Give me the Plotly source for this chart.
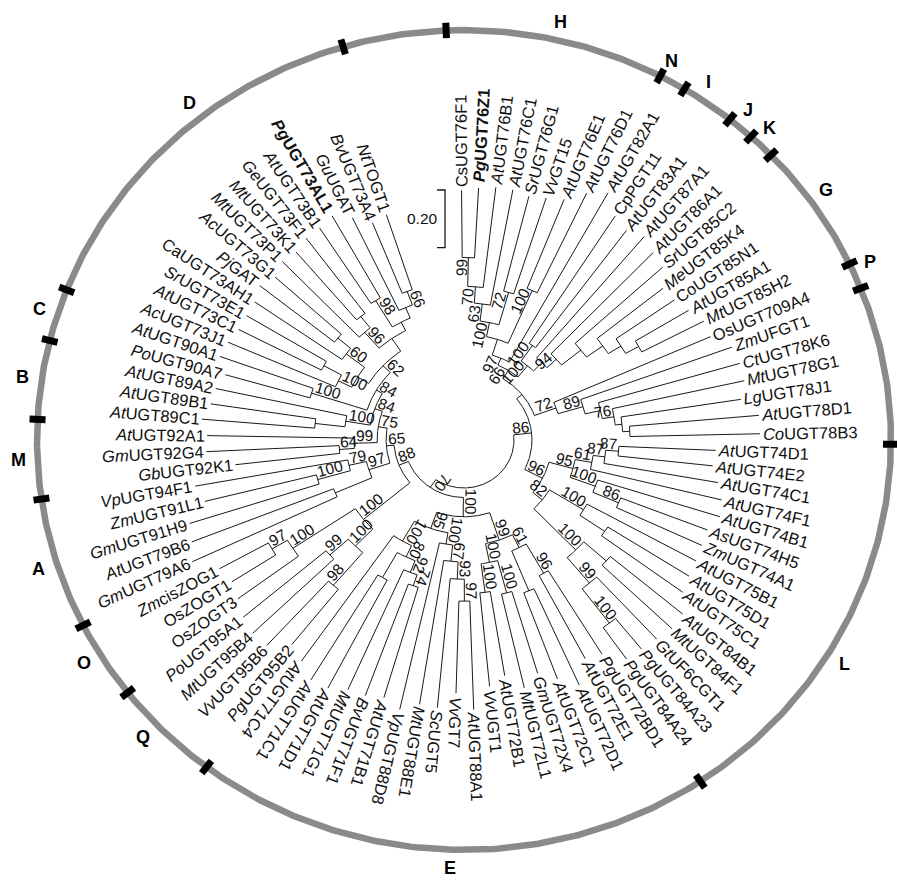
import math
import plotly.graph_objects as go

# ---------------- data ----------------
leaf_names = [
    "CsUGT76F1", "PgUGT76Z1", "AtUGT76B1", "AtUGT76C1", "SrUGT76G1", "VvGT15", "AtUGT76E1", "AtUGT76D1", "AtUGT82A1", "CpPGT11",
    "AtUGT83A1", "AtUGT87A1", "AtUGT86A1", "SrUGT85C2", "MeUGT85K4", "CoUGT85N1", "AtUGT85A1", "MtUGT85H2", "OsUGT709A4", "ZmUFGT1",
    "CtUGT78K6", "MtUGT78G1", "LgUGT78J1", "AtUGT78D1", "CoUGT78B3", "AtUGT74D1", "AtUGT74E2", "AtUGT74C1", "AtUGT74F1", "AtUGT74B1",
    "AsUGT74H5", "ZmUGT74A1", "AtUGT75B1", "AtUGT75D1", "AtUGT75C1", "AtUGT84B1", "MtUGT84F1", "GtUF6CGT1", "PgUGT84A23", "PgUGT84A24",
    "PgUGT72BD1", "AtUGT72E1", "AtUGT72D1", "AtUGT72C1", "GmUGT72X4", "MtUGT72L1", "AtUGT72B1", "VvUGT1", "AtUGT88A1", "VvGT7",
    "ScUGT5", "MtUGT88E1", "VpUGT88D8", "AtUGT71B1", "BvUGT71F1", "MtUGT71G1", "AtUGT71D1", "AtUGT71C1", "AtUGT71C4", "PgUGT95B2",
    "VvUGT95B6", "MtUGT95B4", "PoUGT95A1", "OsZOGT3", "OsZOGT1", "ZmcisZOG1", "GmUGT79A6", "AtUGT79B6", "GmUGT91H9", "ZmUGT91L1",
    "VpUGT94F1", "GbUGT92K1", "GmUGT92G4", "AtUGT92A1", "AtUGT89C1", "AtUGT89B1", "AtUGT89A2", "PoUGT90A7", "AtUGT90A1", "AcUGT73J1",
    "AtUGT73C1", "SrUGT73E1", "CaUGT73AH1", "PjGAT", "AcUGT73G1", "MtUGT73P1", "MtUGT73K1", "GeUGT73F1", "AtUGT73B1", "PgUGT73AL1",
    "GuUGAT", "BvUGT73A4", "NtTOGT1",
]

# distance of each tip from the root (substitutions per site)
leaf_depth = [
    0.700, 0.710, 0.717, 0.717, 0.707, 0.717, 0.733, 0.783, 0.817, 0.760,
    0.740, 0.760, 0.740, 0.727, 0.680, 0.687, 0.707, 0.733, 0.730, 0.783,
    0.790, 0.790, 0.767, 0.820, 0.820, 0.673, 0.667, 0.693, 0.717, 0.727,
    0.703, 0.707, 0.713, 0.720, 0.733, 0.780, 0.787, 0.777, 0.770, 0.767,
    0.707, 0.693, 0.767, 0.720, 0.680, 0.717, 0.663, 0.693, 0.770, 0.713,
    0.767, 0.763, 0.793, 0.767, 0.780, 0.783, 0.807, 0.810, 0.773, 0.747,
    0.803, 0.807, 0.793, 0.767, 0.750, 0.763, 0.833, 0.807, 0.793, 0.723,
    0.743, 0.600, 0.693, 0.690, 0.710, 0.687, 0.680, 0.660, 0.697, 0.690,
    0.677, 0.677, 0.680, 0.700, 0.680, 0.700, 0.693, 0.710, 0.713, 0.727,
    0.690, 0.647, 0.657,
]

bold_leaves = ["PgUGT76Z1", "PgUGT73AL1"]
upright_leaves = ["CsUGT76F1", "CpPGT11", "CoUGT85N1", "OsUGT709A4", "OsZOGT3", "OsZOGT1", "CaUGT73AH1"]

# internal nodes: children (int = leaf number, str = node id), depth from root, bootstrap
node_id = [
    "h1", "h2", "h3", "h4", "h5", "h6", "h7", "hA", "i1", "g1", "g2", "g3", "g4", "g5", "g6", "g7", "t1",
    "f1", "f2", "f3", "f4", "f5", "p1", "t2",
    "l1", "l2", "l3", "l4", "l5", "l6", "l7", "l8", "l9", "l10", "l11a", "l11", "l12", "l13", "r86",
    "e1", "ea", "e2", "e3", "e4", "e5", "e6", "e7", "e8", "e9", "e10", "e11", "e12", "e13", "e14", "e15", "e16", "e99",
    "q1", "q2", "q3", "o1", "o2", "qo",
    "a2", "a1", "a79", "a3", "m1", "m2", "b1", "b2", "c1",
    "d10", "d11", "d8", "d9", "d12", "d5", "d6", "d3", "d1", "d2", "d4", "d7", "d13",
    "dc", "bdc", "mbdc", "am", "L1", "L2", "root",
]
node_left = [
    1, "h1", "h2", 5, "h3", 7, "h5", "h7", 10, 17, 16, 15, 14, 13, 12, "i1", "hA",
    24, 23, 22, 21, 20, 19, "t1",
    26, "l1", "l2", 31, 30, "l3", 34, 33, 39, 38, 36, "l11a", "l8", "l6", "t2",
    41, 43, "e1", 45, 47, "e3", "e2", 49, "e7", "e8", "e9", 54, "e11", 57, "e12", "e14", "e10", "e6",
    60, 62, "q1", 65, 64, "q3",
    67, 69, "a1", "a2", 72, "m1", 75, "b1", 78,
    81, 80, 84, 83, "d11", 87, 86, 89, 92, 91, "d3", "d6", "d12",
    "c1", "b2", "m2", "a3", "qo", "e99", "r86",
]
node_right = [
    2, 3, 4, 6, "h4", 8, "h6", 9, 11, 18, "g1", "g2", "g3", "g4", "g5", "g6", "g7",
    25, "f1", "f2", "f3", "f4", "f5", "p1",
    27, 28, 29, 32, "l4", "l5", 35, "l7", 40, "l9", 37, "l10", "l11", "l12", "l13",
    42, 44, "ea", 46, 48, "e4", "e5", 50, 51, 52, 53, 55, 56, 58, "e13", 59, "e15", "e16",
    61, 63, "q2", 66, "o1", "o2",
    68, 70, 71, "a79", 73, 74, 76, 77, 79,
    82, "d10", 85, "d8", "d9", 88, "d5", 90, 93, "d1", "d2", "d4", "d7",
    "d13", "dc", "bdc", "mbdc", "am", "L1", "L2",
]
node_depth = [
    0.467, 0.367, 0.310, 0.367, 0.250, 0.400, 0.200, 0.143, 0.233, 0.500, 0.450, 0.400, 0.333, 0.250, 0.207, 0.167, 0.117,
    0.387, 0.363, 0.340, 0.300, 0.247, 0.160, 0.083,
    0.350, 0.307, 0.267, 0.393, 0.300, 0.210, 0.400, 0.300, 0.633, 0.483, 0.467, 0.367, 0.167, 0.127, 0.060,
    0.367, 0.400, 0.250, 0.383, 0.367, 0.267, 0.200, 0.393, 0.317, 0.257, 0.200, 0.367, 0.327, 0.383, 0.283, 0.240, 0.160, 0.100,
    0.500, 0.433, 0.350, 0.577, 0.517, 0.267,
    0.300, 0.340, 0.227, 0.167, 0.250, 0.200, 0.333, 0.233, 0.367,
    0.367, 0.300, 0.383, 0.327, 0.250, 0.383, 0.333, 0.400, 0.383, 0.333, 0.293, 0.260, 0.207,
    0.173, 0.150, 0.123, 0.093, 0.067, 0.033, 0.000,
]
node_support = [
    "99", "70", "63", "72", "100", "100", "", "97", "100", "", "", "", "", "94", "", "100", "66",
    "", "", "76", "", "89", "72", "",
    "87", "87", "61", "86", "100", "95", "", "100", "100", "99", "", "100", "82", "96", "86",
    "96", "", "61", "100", "100", "100", "99", "97", "93", "67", "100", "74", "92", "", "80", "100", "95", "100",
    "98", "99", "100", "97", "100", "100",
    "", "100", "79", "97", "64", "99", "", "100", "100",
    "", "100", "", "60", "", "", "96", "98", "66", "", "", "", "62",
    "84", "84", "75", "65", "88", "70", "",
]

group_letters = ["H", "N", "I", "J", "K", "G", "P", "F", "L", "E", "Q", "O", "A", "M", "B", "C", "D"]
group_sizes = [8, 1, 2, 1, 1, 5, 1, 6, 15, 19, 4, 3, 5, 3, 3, 2, 14]

scale_value = 0.20
scale_text = "0.20"

# ---------------- layout constants ----------------
W_FIG, H_FIG = 897, 884
CX, CY = 464.0, 440.0
SY = 0.96
R_IN = 50.0
PX_PER_UNIT = 300.0
THETA0 = -2.4
STEP = 3.72
RING_R = 427.0
FLIP = 217.0
FONT = "Arial, Liberation Sans, sans-serif"
FS_LEAF = 16.5
FS_BOOT = 15.5
FS_GROUP = 18
# small angular nudges of the group letters (degrees), as placed in the original figure
LETTER_NUDGE = {"D": 4.5, "L": 3.0, "N": -1.5, "I": -1.5, "J": -0.8, "K": -0.8, "G": -1.0, "P": -1.0, "Q": 1.5, "O": 1.0}

CW = {
    'A': 667, 'B': 667, 'C': 722, 'D': 722, 'E': 667, 'F': 611, 'G': 778, 'H': 722, 'I': 278, 'J': 500,
    'K': 667, 'L': 556, 'M': 833, 'N': 722, 'O': 778, 'P': 667, 'Q': 778, 'R': 722, 'S': 667, 'T': 611,
    'U': 722, 'V': 667, 'W': 944, 'X': 667, 'Y': 667, 'Z': 611,
    'a': 556, 'b': 556, 'c': 500, 'd': 556, 'e': 556, 'f': 278, 'g': 556, 'h': 556, 'i': 222, 'j': 222,
    'k': 500, 'l': 222, 'm': 833, 'n': 556, 'o': 556, 'p': 556, 'q': 556, 'r': 333, 's': 500, 't': 278,
    'u': 556, 'v': 500, 'w': 722, 'x': 500, 'y': 500, 'z': 500, '.': 278,
}


def text_w(s, size, bold=False):
    tot = sum(CW.get(ch, 556) for ch in s)
    if bold:
        tot *= 1.07
    return tot / 1000.0 * size


leaf_angle = [THETA0 + (i + 0.5) * STEP for i in range(len(leaf_names))]
nidx = {n: k for k, n in enumerate(node_id)}


def ang(c):
    if isinstance(c, int):
        return leaf_angle[c - 1]
    k = nidx[c]
    return 0.5 * (ang(node_left[k]) + ang(node_right[k]))


def rad(c):
    if isinstance(c, int):
        return R_IN + leaf_depth[c - 1] * PX_PER_UNIT
    return R_IN + node_depth[nidx[c]] * PX_PER_UNIT


def pt(r, th):
    t = math.radians(th)
    return CX + r * math.sin(t), CY - SY * r * math.cos(t)


def unit(th):
    t = math.radians(th)
    ux, uy = math.sin(t), -SY * math.cos(t)
    n = math.hypot(ux, uy)
    return ux / n, uy / n


def text_angle(th):
    ux, uy = unit(th)
    a = math.degrees(math.atan2(uy, ux))
    flipped = FLIP <= th < 350
    if flipped:
        a += 180
    while a > 180:
        a -= 360
    while a <= -180:
        a += 360
    return a, flipped


# ---------------- tree lines ----------------
lx, ly = [], []
for k, nid in enumerate(node_id):
    rn = R_IN + node_depth[k] * PX_PER_UNIT
    a1, a2 = ang(node_left[k]), ang(node_right[k])
    n = max(2, int(abs(a2 - a1) / 0.5) + 1)
    for j in range(n):
        x, y = pt(rn, a1 + (a2 - a1) * j / (n - 1))
        lx.append(x)
        ly.append(y)
    lx.append(None)
    ly.append(None)
    for c in (node_left[k], node_right[k]):
        ac = ang(c)
        x0, y0 = pt(rn, ac)
        x1, y1 = pt(rad(c), ac)
        lx += [x0, x1, None]
        ly += [y0, y1, None]

fig = go.Figure()
fig.add_trace(go.Scatter(x=lx, y=ly, mode="lines", line=dict(color="#1a1a1a", width=1),
                         hoverinfo="skip", showlegend=False))

# ---------------- ring ----------------
rx, ry = [], []
for j in range(721):
    x, y = pt(RING_R, j * 0.5)
    rx.append(x)
    ry.append(y)
fig.add_trace(go.Scatter(x=rx, y=ry, mode="lines", line=dict(color="#8a8a8a", width=6.5),
                         hoverinfo="skip", showlegend=False))

tx, ty = [], []
cum = 0
bounds = [0]
for s in group_sizes:
    cum += s
    bounds.append(cum)
for b in bounds:
    th = THETA0 + b * STEP
    x0, y0 = pt(RING_R - 8, th)
    x1, y1 = pt(RING_R + 8, th)
    tx += [x0, x1, None]
    ty += [y0, y1, None]
fig.add_trace(go.Scatter(x=tx, y=ty, mode="lines", line=dict(color="#000000", width=7),
                         hoverinfo="skip", showlegend=False))

annotations = []
# group letters
for g, letter in enumerate(group_letters):
    th = THETA0 + (bounds[g] + group_sizes[g] / 2.0) * STEP + LETTER_NUDGE.get(letter, 0.0)
    x, y = pt(RING_R + 19, th)
    annotations.append(dict(x=x, y=y, text="<b>%s</b>" % letter, showarrow=False,
                            xanchor="center", yanchor="middle",
                            font=dict(family=FONT, size=FS_GROUP, color="#000")))

# leaf labels
for i, name in enumerate(leaf_names):
    th = leaf_angle[i]
    r = R_IN + leaf_depth[i] * PX_PER_UNIT
    x0, y0 = pt(r, th)
    ux, uy = unit(th)
    bold = name in bold_leaves
    w = text_w(name, FS_LEAF, bold)
    d = 3 + w / 2.0
    if name in upright_leaves:
        txt = name
    else:
        txt = "<i>%s</i>%s" % (name[:2], name[2:])
    if bold:
        txt = "<b>%s</b>" % txt
    a, _ = text_angle(th)
    annotations.append(dict(x=x0 + ux * d, y=y0 + uy * d, text=txt, showarrow=False,
                            textangle=a, xanchor="center", yanchor="middle",
                            font=dict(family=FONT, size=FS_LEAF, color="#111")))

# bootstrap labels
for k, nid in enumerate(node_id):
    sup = node_support[k]
    if not sup:
        continue
    th = ang(nid)
    rn = R_IN + node_depth[k] * PX_PER_UNIT
    x0, y0 = pt(rn, th)
    ux, uy = unit(th)
    a, flipped = text_angle(th)
    w = text_w(sup, FS_BOOT)
    d = 2 + w / 2.0
    ar = math.radians(a)
    upx, upy = math.sin(ar), -math.cos(ar)
    cx_ = x0 - ux * d + upx * 7
    cy_ = y0 - uy * d + upy * 7
    annotations.append(dict(x=cx_, y=cy_, text=sup, showarrow=False, textangle=a,
                            xanchor="center", yanchor="middle",
                            font=dict(family=FONT, size=FS_BOOT, color="#111")))

# scale bar
sb_x, sb_top = 445.0, 190.0
sb_len = scale_value * PX_PER_UNIT * SY
fig.add_trace(go.Scatter(x=[sb_x - 8, sb_x, sb_x, sb_x - 8], y=[sb_top, sb_top, sb_top + sb_len, sb_top + sb_len],
                         mode="lines", line=dict(color="#1a1a1a", width=1.3),
                         hoverinfo="skip", showlegend=False))
annotations.append(dict(x=sb_x - 23, y=sb_top + sb_len / 2.0, text=scale_text, showarrow=False,
                        xanchor="center", yanchor="middle",
                        font=dict(family=FONT, size=FS_BOOT, color="#111")))

fig.update_layout(
    width=W_FIG, height=H_FIG, autosize=False,
    margin=dict(l=0, r=0, t=0, b=0),
    paper_bgcolor="white", plot_bgcolor="white",
    xaxis=dict(range=[0, W_FIG], visible=False, fixedrange=True),
    yaxis=dict(range=[H_FIG, 0], visible=False, fixedrange=True),
    annotations=annotations,
    showlegend=False,
)

fig.write_html("out.html", config={"displayModeBar": False},
               post_script="document.body.style.margin='0';document.body.style.overflow='hidden';")
